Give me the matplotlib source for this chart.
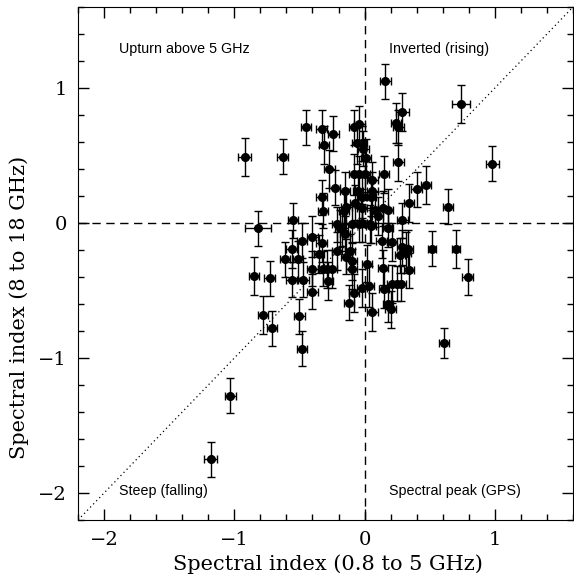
import numpy as np
import matplotlib
matplotlib.use("Agg")
import matplotlib.pyplot as plt
from matplotlib.ticker import MultipleLocator

# spectral indices
alpha_low = [
    -0.92, -0.63, -0.45, -0.33, -0.31, -0.24, -0.27, -0.23, -0.33, -0.08,
    -0.04, -0.06, -0.02, -0.01, 0.01, -0.08, -0.04, 0.00, 0.06, -0.15,
    -0.05, 0.06, -0.14, -0.02, 0.05, 0.14, -0.02, 0.08, 0.18, -0.32,
    0.16, 0.29, 0.24, 0.26, 0.26, 0.15, 0.74, 0.98, 0.40, 0.47,
    0.34, 0.64, 0.29, 0.52, 0.70, 0.79, 0.61, -0.02, 0.05, 0.18,
    0.13, 0.21, 0.29, 0.33, 0.32, 0.27, 0.02, 0.14, 0.34, 0.21,
    0.25, 0.28, -0.02, 0.03, 0.15, 0.18, 0.20, 0.06, -0.17, -0.10,
    -0.04, 0.04, -0.14, -0.10, -0.10, -0.08, -0.12, -0.21, -0.19, -0.15,
    -0.21, -0.11, -0.25, -0.55, -0.48, -0.56, -0.61, -0.51, -0.56, -0.47,
    -0.40, -0.33, -0.40, -0.35, -0.32, -0.29, -0.28, -0.40, -0.50, -0.48,
    -0.82, -0.85, -0.73, -0.78, -0.71, -1.03, -1.18, -0.16, 0.10, -0.07,
]
alpha_high = [
    0.49, 0.49, 0.71, 0.70, 0.58, 0.66, 0.40, 0.26, 0.19, 0.71,
    0.73, 0.59, 0.59, 0.55, 0.48, 0.36, 0.36, 0.36, 0.32, 0.24,
    0.24, 0.24, 0.12, 0.19, 0.19, 0.11, 0.11, 0.10, 0.10, 0.09,
    1.05, 0.82, 0.74, 0.71, 0.45, 0.36, 0.88, 0.44, 0.25, 0.28,
    0.15, 0.12, 0.02, -0.19, -0.19, -0.40, -0.89, 0.00, -0.02, -0.04,
    -0.13, -0.14, -0.18, -0.19, -0.22, -0.24, -0.30, -0.33, -0.35, -0.45,
    -0.45, -0.45, -0.48, -0.47, -0.49, -0.60, -0.64, -0.66, -0.04, -0.01,
    -0.01, -0.01, -0.25, -0.28, -0.34, -0.52, -0.59, -0.01, -0.04, -0.08,
    -0.21, -0.21, -0.34, 0.02, -0.13, -0.19, -0.27, -0.27, -0.42, -0.42,
    -0.10, -0.15, -0.34, -0.23, -0.34, -0.34, -0.43, -0.51, -0.69, -0.93,
    -0.04, -0.39, -0.41, -0.68, -0.78, -1.28, -1.75, 0.09, 0.05, 0.15,
]
err_low = [
    0.05, 0.04, 0.04, 0.04, 0.04, 0.04, 0.04, 0.04, 0.04, 0.04,
    0.04, 0.04, 0.04, 0.04, 0.04, 0.04, 0.04, 0.04, 0.04, 0.04,
    0.04, 0.04, 0.04, 0.04, 0.04, 0.04, 0.04, 0.04, 0.04, 0.04,
    0.04, 0.05, 0.04, 0.04, 0.04, 0.04, 0.07, 0.05, 0.04, 0.04,
    0.04, 0.04, 0.04, 0.03, 0.03, 0.04, 0.04, 0.04, 0.04, 0.04,
    0.04, 0.04, 0.04, 0.04, 0.04, 0.04, 0.04, 0.04, 0.04, 0.04,
    0.04, 0.04, 0.04, 0.04, 0.04, 0.04, 0.04, 0.04, 0.04, 0.04,
    0.04, 0.04, 0.04, 0.04, 0.04, 0.04, 0.04, 0.04, 0.04, 0.04,
    0.04, 0.04, 0.04, 0.04, 0.04, 0.04, 0.04, 0.04, 0.04, 0.04,
    0.04, 0.04, 0.04, 0.04, 0.04, 0.04, 0.04, 0.04, 0.04, 0.04,
    0.10, 0.04, 0.04, 0.04, 0.04, 0.04, 0.05, 0.04, 0.04, 0.04,
]
err_high = [
    0.14, 0.13, 0.13, 0.14, 0.14, 0.13, 0.14, 0.13, 0.13, 0.13,
    0.14, 0.15, 0.13, 0.13, 0.14, 0.15, 0.14, 0.13, 0.13, 0.14,
    0.13, 0.14, 0.13, 0.15, 0.14, 0.13, 0.14, 0.13, 0.15, 0.13,
    0.13, 0.14, 0.15, 0.13, 0.14, 0.14, 0.14, 0.13, 0.13, 0.14,
    0.14, 0.13, 0.13, 0.13, 0.14, 0.13, 0.11, 0.14, 0.13, 0.14,
    0.13, 0.14, 0.13, 0.14, 0.15, 0.13, 0.14, 0.13, 0.13, 0.14,
    0.13, 0.13, 0.14, 0.15, 0.14, 0.13, 0.14, 0.14, 0.13, 0.14,
    0.13, 0.14, 0.13, 0.14, 0.15, 0.14, 0.13, 0.13, 0.14, 0.13,
    0.14, 0.13, 0.14, 0.13, 0.13, 0.14, 0.13, 0.14, 0.13, 0.13,
    0.15, 0.14, 0.13, 0.14, 0.13, 0.14, 0.14, 0.13, 0.13, 0.13,
    0.13, 0.14, 0.13, 0.14, 0.13, 0.13, 0.13, 0.14, 0.14, 0.13,
]

region_labels = ["Upturn above 5 GHz", "Inverted (rising)",
                 "Steep (falling)", "Spectral peak (GPS)"]
label_x = [-1.885, 0.19, -1.885, 0.19]
label_y = [1.29, 1.29, -1.985, -1.985]

fig = plt.figure(figsize=(5.74, 5.78), dpi=100)
ax = fig.add_axes([0.1359, 0.1003, 0.8624, 0.8876])

lim = (-2.2, 1.6)
ax.plot(lim, lim, color="black", linestyle=(0, (1, 2.5)), linewidth=0.9)
ax.axhline(0, color="black", linestyle=(0, (6, 4)), linewidth=1.0)
ax.axvline(0, color="black", linestyle=(0, (6, 4)), linewidth=1.0)

ax.errorbar(alpha_low, alpha_high, xerr=err_low, yerr=err_high,
            fmt="o", color="black", markersize=5.5, elinewidth=1.0,
            capsize=3, capthick=1.0)

for txt, tx, ty in zip(region_labels, label_x, label_y):
    ax.text(tx, ty, txt, fontsize=10.3, family="Liberation Sans",
            ha="left", va="center")

ax.set_xlim(lim)
ax.set_ylim(lim)
ax.xaxis.set_major_locator(MultipleLocator(1))
ax.xaxis.set_minor_locator(MultipleLocator(0.2))
ax.yaxis.set_major_locator(MultipleLocator(1))
ax.yaxis.set_minor_locator(MultipleLocator(0.2))
ax.tick_params(which="both", direction="in", top=True, right=True)
ax.tick_params(which="major", length=8, width=1, labelsize=14, pad=8)
ax.tick_params(which="minor", length=4, width=1)
for lab in ax.get_xticklabels() + ax.get_yticklabels():
    lab.set_family("DejaVu Serif")

ax.set_xlabel("Spectral index (0.8 to 5 GHz)", family="DejaVu Serif", fontsize=15)
ax.set_ylabel("Spectral index (8 to 18 GHz)", family="DejaVu Serif", fontsize=15)
ax.xaxis.set_label_coords(0.505, -0.066)
ax.yaxis.set_label_coords(-0.098, 0.415)

fig.savefig("out.png", dpi=100)
